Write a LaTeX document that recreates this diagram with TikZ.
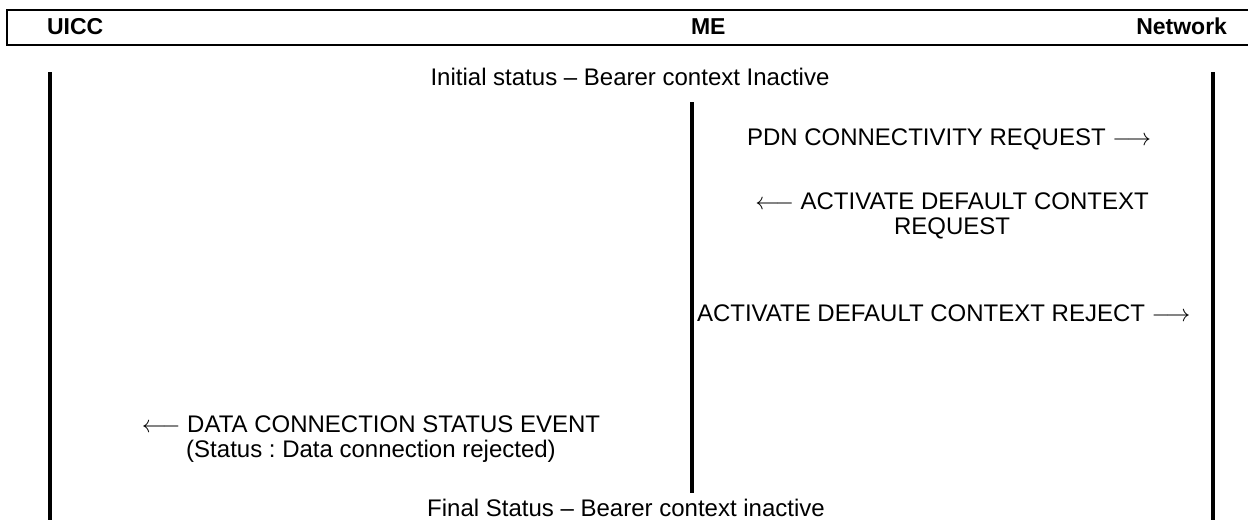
\documentclass[tikz,border=0pt]{standalone}
\usepackage{fontspec}
\setmainfont{Liberation Sans}
\frenchspacing
\usetikzlibrary{positioning}

\begin{document}
\begin{tikzpicture}[
    x=0.5pt,
    y=-0.5pt,
    every node/.style={
        inner sep=0pt,
        outer sep=0pt
    },
    head/.style={
        font=\fontsize{11.5}{12}\selectfont\bfseries
    },
    msg/.style={
        font=\fontsize{12}{12.2}\selectfont,
        align=center
    },
    lifeline/.style={
        line width=2pt
    },
    frame/.style={
        line width=1pt
    }
]
\useasboundingbox (0,0) rectangle (1248,520);

% Header
\draw[frame] (1248,10) -| (7,45) -- (1248,45);
\node[head, anchor=base west] (uicc) at (47,34) {UICC};
\node[head, anchor=base west] (me) at (691,34) {ME};
\node[head, anchor=base east] (net) at (1227,34) {Network};

% Lifelines
\coordinate (uicctop) at (50,72);
\coordinate (uiccbot) at (50,520);
\coordinate (metop) at (692,102);
\coordinate (mebot) at (692,493);
\coordinate (nettop) at (1213,72);
\coordinate (netbot) at (1213,520);

\draw[lifeline] (uicctop) -- (uiccbot);
\draw[lifeline] (metop) -- (mebot);
\draw[lifeline] (nettop) -- (netbot);

% Messages
\node[msg, anchor=base] (init) at (630,85) {Initial status -- Bearer context Inactive};
\node[msg, anchor=base west] (pdnreq) at (747,145) {PDN CONNECTIVITY REQUEST $\longrightarrow$};
\node[msg, anchor=north] (actreq) at (952,193) {$\longleftarrow$ ACTIVATE DEFAULT CONTEXT\\REQUEST};
\node[msg, anchor=base west] (actrej) at (697,321) {ACTIVATE DEFAULT CONTEXT REJECT $\longrightarrow$};
\node[msg, anchor=north] (dataev) at (371,416) {$\longleftarrow$ DATA CONNECTION STATUS EVENT\\(Status : Data connection rejected)};
\node[msg, anchor=base] (final) at (626,516) {Final Status -- Bearer context inactive};

\end{tikzpicture}
\end{document}
